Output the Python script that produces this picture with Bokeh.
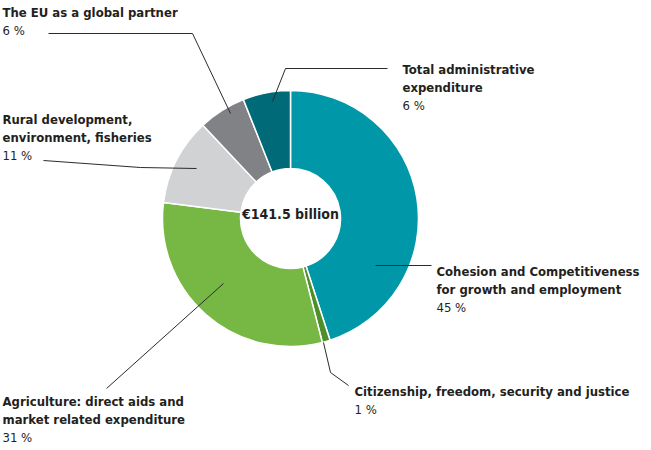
import numpy as np
from bokeh.plotting import figure
from bokeh.models import Range1d, ColumnDataSource
from bokeh.core.properties import value
from bokeh.embed import file_html
from bokeh.resources import INLINE

# ---- data ----
categories = [
    ["Cohesion and Competitiveness", "for growth and employment"],
    ["Citizenship, freedom, security and justice"],
    ["Agriculture: direct aids and", "market related expenditure"],
    ["Rural development,", "environment, fisheries"],
    ["The EU as a global partner"],
    ["Total administrative", "expenditure"],
]
shares = [45, 1, 31, 11, 6, 6]
pct_labels = ["45 %", "1 %", "31 %", "11 %", "6 %", "6 %"]
colors = ["#0098a8", "#4e8f2c", "#76b843", "#d1d2d4", "#808285", "#006a78"]
total_label = "€141.5 billion"

# ---- layout (page pixel positions) ----
W, H = 651, 450
def X(px): return px
def Y(py): return H - py

CX, CY = 290, 218
R_OUT, R_IN = 128, 50

# label top-left anchors (page px)
label_pos = [(436, 263), (354, 383), (2, 393), (2, 111), (2, 4), (402, 61)]
leaders = [
    [(375, 265), (431, 265)],
    [(323, 342), (330, 372), (348, 385)],
    [(223, 283), (106, 388)],
    [(43, 160), (140, 167), (196, 168)],
    [(48, 33), (192, 33), (230, 113)],
    [(387, 68), (285, 68), (272, 101)],
]

FONT = "DejaVu Sans Condensed"
TXT = "#231f20"
FS = "13px"

p = figure(width=W, height=H, output_backend="svg", toolbar_location=None,
           x_range=Range1d(0, W), y_range=Range1d(0, H), min_border=0)
p.axis.visible = False
p.grid.visible = False
p.outline_line_color = None
p.background_fill_color = None
p.border_fill_color = None

frac = np.array(shares, dtype=float) / sum(shares)
cum_end = np.cumsum(frac)
cum_start = cum_end - frac
src = ColumnDataSource(dict(
    start=np.pi / 2 - 2 * np.pi * cum_end,
    end=np.pi / 2 - 2 * np.pi * cum_start,
    color=colors,
))
p.annular_wedge(x=X(CX), y=Y(CY), inner_radius=R_IN, outer_radius=R_OUT,
                start_angle="start", end_angle="end", fill_color="color",
                line_color="white", line_width=1.5, source=src)

for pts in leaders:
    p.line([X(a) for a, b in pts], [Y(b) for a, b in pts], line_color="#2b2b2b", line_width=1)

LH = 18
for (lx, ly), lines, pct in zip(label_pos, categories, pct_labels):
    xs, ys = [], []
    for i, ln in enumerate(lines):
        xs.append(X(lx)); ys.append(Y(ly + i * LH))
    p.text(x=xs, y=ys, text=lines, text_font=value(FONT), text_font_style="bold",
           text_font_size=FS, text_color=TXT, text_baseline="top", text_align="left")
    p.text(x=[X(lx)], y=[Y(ly + len(lines) * LH)], text=[pct], text_font=value(FONT),
           text_font_size=FS, text_color=TXT, text_baseline="top", text_align="left")

p.text(x=[X(CX)], y=[Y(CY - 5)], text=[total_label], text_font=value(FONT),
       text_font_style="bold", text_font_size="14px", text_color=TXT,
       text_baseline="middle", text_align="center")

open("out.html", "w").write(file_html(p, INLINE))
